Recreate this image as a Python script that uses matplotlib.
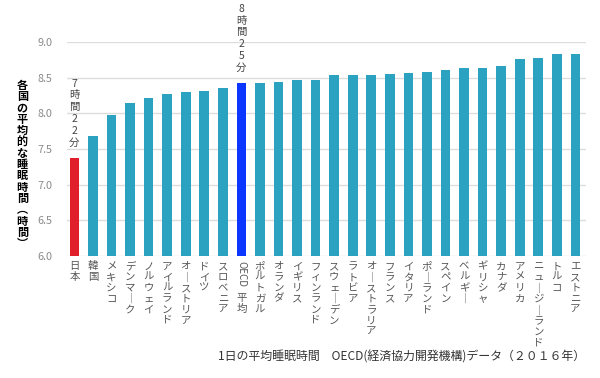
import matplotlib
matplotlib.use('Agg')
import matplotlib.pyplot as plt
import matplotlib.transforms as mtransforms
import numpy as np

plt.rcParams['font.family'] = ['Noto Sans CJK JP', 'DejaVu Sans']

# データ: 各国の平均睡眠時間 (OECD 2016)
countries = ['日本', '韓国', 'メキシコ', 'デンマーク', 'ノルウェイ', 'アイルランド',
             'オーストリア', 'ドイツ', 'スロベニア', 'OECD平均', 'ポルトガル', 'オランダ',
             'イギリス', 'フィンランド', 'スウェーデン', 'ラトビア', 'オーストラリア',
             'フランス', 'イタリア', 'ポーランド', 'スペイン', 'ベルギー', 'ギリシャ',
             'カナダ', 'アメリカ', 'ニュージーランド', 'トルコ', 'エストニア']
hours = [7.37, 7.68, 7.98, 8.14, 8.21, 8.27, 8.30, 8.31, 8.35, 8.42, 8.43, 8.44,
         8.47, 8.47, 8.53, 8.53, 8.53, 8.55, 8.56, 8.58, 8.60, 8.63, 8.63,
         8.66, 8.76, 8.77, 8.83, 8.83]
notes = {'日本': '7時間22分', 'OECD平均': '8時間25分'}
yticks = [6.0, 6.5, 7.0, 7.5, 8.0, 8.5, 9.0]
ylabel = '各国の平均的な睡眠時間︵時間︶'

TEAL = '#2AA2C0'
colors = []
for c in countries:
    if c == '日本':
        colors.append('#E01F2A')
    elif c == 'OECD平均':
        colors.append('#0A36FF')
    else:
        colors.append(TEAL)

def vert(s):
    # 縦書き用: 長音は縦線に
    return '\n'.join(ch.replace('ー', '｜') for ch in s)

fig = plt.figure(figsize=(6, 3.78), dpi=100)
ax = fig.add_axes([0.111, 0.323, 0.865, 0.566])

x = np.arange(len(countries))
ax.bar(x, hours, width=0.52, color=colors, zorder=3)
ax.set_ylim(6, 9)
ax.set_xlim(-0.42, len(countries) - 0.45)
ax.set_yticks(yticks)
ax.set_yticklabels([f'{v:.1f}' for v in yticks], color='#8a8a8a', fontsize=7.8)
ax.grid(axis='y', color='#dddddd', lw=1, zorder=0)
ax.tick_params(axis='y', length=0, pad=10)
for s in ax.spines.values():
    s.set_visible(False)

# x軸ラベル(縦書き)
ax.set_xticks(x)
ax.set_xticklabels([vert(c) if c != 'OECD平均' else '' for c in countries],
                   fontsize=7.5, color='#555555', linespacing=1.09, va='top')
ax.tick_params(axis='x', length=0, pad=4)
trans = mtransforms.blended_transform_factory(ax.transData, ax.transAxes)
i = countries.index('OECD平均')
ax.text(i, -0.025, 'OECD', rotation=-90, transform=trans, ha='center', va='top',
        fontsize=7, color='#555555')
ax.text(i, -0.175, vert('平均'), transform=trans, ha='center', va='top',
        fontsize=7.5, color='#555555', linespacing=1.09)

# 注記
for c, t in notes.items():
    k = countries.index(c)
    ax.text(k, hours[k] + 0.15, vert(t), ha='center', va='bottom', fontsize=7.5,
            color='#444444', linespacing=1.22, clip_on=False)

# y軸タイトル(縦書き、1文字ずつ等間隔)
y0, dy = 1 - 85.6 / 378, 11.3 / 378
for n, ch in enumerate(ylabel):
    fig.text(0.037, y0 - n * dy, ch, ha='center', va='center',
             fontsize=8, fontweight='bold', color='black')

fig.text(0.975, 0.055, '1日の平均睡眠時間　OECD(経済協力開発機構)データ（２０１６年）',
         ha='right', va='center', fontsize=8.6, color='#333333')

fig.savefig('out.png', dpi=100)
